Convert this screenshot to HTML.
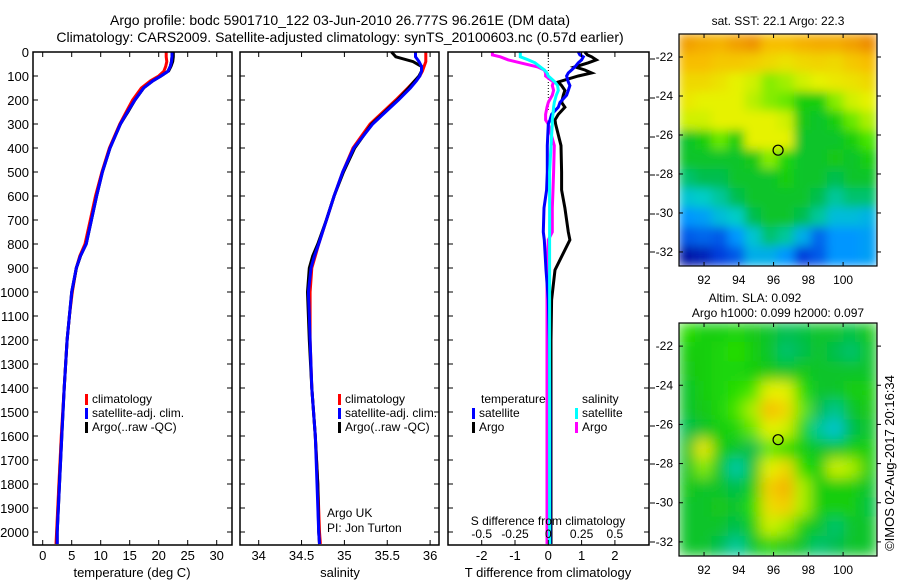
<!DOCTYPE html>
<html><head><meta charset="utf-8">
<style>
body{margin:0;background:#fff;}
svg{display:block;font-family:"Liberation Sans",sans-serif;}
text{fill:#000;}
</style></head>
<body>
<svg id="fig" width="900" height="580" viewBox="0 0 900 580" xmlns="http://www.w3.org/2000/svg">
<defs>
<filter id="blur1" x="0" y="0" width="1" height="1"><feGaussianBlur stdDeviation="5"/></filter>
<filter id="blur2" x="0" y="0" width="1" height="1"><feGaussianBlur stdDeviation="7"/></filter>
<clipPath id="clipTop"><rect x="679" y="34" width="198" height="232"/></clipPath>
<clipPath id="clipBot"><rect x="679" y="323" width="198" height="233"/></clipPath>
</defs>
<text x="340" y="25" font-size="14" text-anchor="middle">Argo profile: bodc 5901710_122 03-Jun-2010 26.777S 96.261E (DM data)</text>
<text x="340" y="42" font-size="14" text-anchor="middle">Climatology: CARS2009. Satellite-adjusted climatology: synTS_20100603.nc (0.57d earlier)</text>
<g id="g1"></g>
<g id="g2"></g>
<g id="g3"></g>
<g id="gm1"></g>
<g id="gm2"></g>
<text transform="translate(894,463) rotate(-90)" font-size="13" text-anchor="middle">©IMOS 02-Aug-2017 20:16:34</text>
</svg>
<script>
// ---------- data ----------
const depths = [0,20,40,60,80,100,120,150,200,250,300,400,500,600,700,800,850,900,1000,1100,1200,1400,1600,1800,2000,2050];
const tempClim = [21.3,21.3,21.4,21.2,20.9,20.0,18.6,17.0,15.5,14.4,13.3,11.5,10.2,9.1,8.2,7.3,6.4,5.8,5.1,4.6,4.2,3.7,3.2,2.8,2.4,2.3];
const tempSat  = [22.3,22.3,22.2,22.0,21.6,20.4,19.0,17.4,15.9,14.6,13.4,11.6,10.3,9.3,8.4,7.5,6.5,5.8,5.0,4.6,4.2,3.7,3.3,2.9,2.5,2.5];
const tempArgo = [22.6,22.6,22.5,22.2,21.8,20.5,19.0,17.5,16.0,14.8,13.5,11.6,10.3,9.3,8.4,7.5,6.6,5.9,5.1,4.6,4.2,3.7,3.2,2.8,2.5,2.4];
const salClim = [35.95,35.95,35.95,35.93,35.91,35.88,35.82,35.74,35.6,35.45,35.3,35.1,34.98,34.88,34.79,34.7,34.66,34.62,34.6,34.6,34.6,34.62,34.66,34.69,34.71,34.72];
const salSat  = [35.83,35.83,35.87,35.9,35.9,35.88,35.84,35.77,35.63,35.48,35.33,35.11,34.98,34.88,34.79,34.7,34.65,34.61,34.58,34.59,34.6,34.62,34.66,34.68,34.7,34.71];
const salArgo = [35.55,35.6,35.8,35.9,35.9,35.87,35.82,35.75,35.62,35.47,35.32,35.12,34.99,34.88,34.79,34.69,34.63,34.59,34.57,34.58,34.59,34.62,34.66,34.69,34.7,34.71];
const diffDepths = [0,12,20,33,45,62,75,87,100,125,140,160,180,210,230,260,283,300,390,500,575,650,750,783,908,1033,1200,1500,2050];
const dTsat  = [0.9,0.95,1.05,1.0,0.9,0.8,0.7,0.6,0.55,0.6,0.65,0.6,0.55,0.35,0.3,0.1,0.05,0.0,-0.03,-0.03,-0.05,-0.13,-0.15,-0.12,-0.07,0.0,0.03,0.05,0.05];
const dTargo = [1.1,1.17,1.3,1.44,1.2,0.8,1.1,1.3,0.9,0.3,0.4,0.5,0.45,0.4,0.5,0.3,0.2,0.22,0.38,0.4,0.4,0.5,0.6,0.65,0.2,0.1,0.08,0.08,0.08];
const dSsat  = [-0.21,-0.21,-0.21,-0.15,-0.1,-0.06,-0.03,-0.01,0.0,0.05,0.07,0.075,0.06,0.045,0.04,0.035,0.03,0.03,0.02,0.01,0.01,0.01,0.01,0.01,0.01,0.01,0.01,0.01,0.01];
const dSargo = [-0.42,-0.42,-0.36,-0.3,-0.21,-0.08,-0.03,-0.02,-0.02,0.04,0.03,0.04,0.03,0.0,-0.01,-0.02,-0.02,0.0,0.045,0.04,0.035,0.03,0.03,0.0,-0.01,-0.01,-0.01,-0.01,-0.01];
const depthTicks = [0,100,200,300,400,500,600,700,800,900,1000,1100,1200,1300,1400,1500,1600,1700,1800,1900,2000];
const tempTicks = [0,5,10,15,20,25,30];
const salTicks = [34,34.5,35,35.5,36];
const salTickLabels = ["34","34.5","35","35.5","36"];
const dTTicks = [-2,-1,0,1,2];
const dSTicks = [-0.5,-0.25,0,0.25,0.5];
const dSTickLabels = ["-0.5","-0.25","0","0.25","0.5"];
const lonTicks = [92,94,96,98,100];
const latTicks = [-22,-24,-26,-28,-30,-32];
const argoLon = 96.26, argoLat = -26.78;
const sstGrid = [
[.95,.93,.92,.95,.97,.9,.9,.92,.93,.93,.95,.98],
[.9,.9,.88,.88,.87,.85,.83,.85,.86,.85,.88,.9],
[.85,.85,.83,.8,.78,.72,.74,.78,.8,.82,.83,.85],
[.82,.8,.8,.8,.76,.72,.7,.6,.6,.72,.78,.8],
[.78,.78,.8,.8,.8,.8,.78,.58,.55,.6,.7,.75],
[.55,.6,.7,.6,.8,.8,.8,.55,.55,.55,.6,.68],
[.55,.55,.55,.55,.58,.72,.62,.55,.55,.58,.55,.6],
[.48,.5,.5,.55,.55,.55,.6,.55,.55,.5,.55,.55],
[.4,.42,.45,.5,.55,.55,.55,.55,.5,.45,.48,.48],
[.3,.32,.38,.42,.5,.55,.55,.5,.45,.38,.38,.36],
[.2,.22,.2,.3,.4,.48,.45,.35,.22,.3,.3,.32],
[.05,.08,.15,.2,.35,.35,.3,.15,.2,.3,.3,.32]];
const slaGrid = [
[.65,.6,.6,.62,.58,.55,.5,.52,.55,.55,.52,.58],
[.6,.6,.62,.65,.6,.55,.48,.5,.55,.5,.48,.55],
[.58,.6,.62,.62,.6,.58,.55,.58,.55,.55,.55,.55],
[.55,.6,.62,.65,.68,.8,.8,.65,.55,.55,.6,.6],
[.55,.58,.62,.68,.75,.9,.85,.7,.5,.46,.55,.58],
[.5,.55,.6,.62,.7,.8,.78,.62,.45,.4,.5,.55],
[.55,.82,.6,.55,.5,.7,.65,.6,.55,.55,.6,.6],
[.55,.72,.55,.44,.55,.8,.85,.65,.6,.78,.75,.6],
[.58,.55,.55,.5,.6,.87,.92,.75,.6,.6,.6,.55],
[.55,.55,.58,.55,.65,.84,.87,.75,.6,.6,.6,.52],
[.55,.55,.55,.5,.6,.78,.74,.6,.55,.48,.55,.55],
[.55,.55,.5,.45,.55,.62,.58,.55,.48,.5,.55,.55]];

// ---------- helpers ----------
const NS="http://www.w3.org/2000/svg";
function mk(tag,attrs,parent){const e=document.createElementNS(NS,tag);for(const k in attrs)e.setAttribute(k,attrs[k]);parent.appendChild(e);return e;}
const TOP=52, BOT=545;
const yD = d => TOP + d*0.24;
const xT = v => 42.7 + v*5.8;
const xS = v => 258.7 + (v-34)*85.7;
const xDT = v => 548.3 + v*33.3;
const xDS = v => 548.3 + v*133.2;

function frame(g,x0,x1){
  const r=mk('rect',{x:x0,y:TOP,width:x1-x0,height:BOT-TOP,fill:'none',stroke:'#000','stroke-width':1.5},g);
  
  
  depthTicks.forEach(d=>{
    mk('line',{x1:x0,x2:x0+5,y1:yD(d),y2:yD(d),stroke:'#000'},g);
    mk('line',{x1:x1,x2:x1-5,y1:yD(d),y2:yD(d),stroke:'#000'},g);
  });
}
function xticks(g,vals,labels,fx,y){
  vals.forEach((v,i)=>{
    mk('line',{x1:fx(v),x2:fx(v),y1:TOP,y2:TOP+5,stroke:'#000'},g);
    mk('line',{x1:fx(v),x2:fx(v),y1:BOT,y2:BOT-5,stroke:'#000'},g);
    if(labels){const t=mk('text',{x:fx(v),y:y,'font-size':13,'text-anchor':'middle'},g);t.textContent=labels[i];
      
      }
  });
}
function line(g,xs,ds,fx,color,name,w){
  const pts=xs.map((v,i)=>fx(v).toFixed(1)+','+yD(ds[i]).toFixed(1)).join(' ');
  const p=mk('polyline',{points:pts,fill:'none',stroke:color,'stroke-width':w||3,'stroke-linejoin':'miter'},g);
  
  
}
function legend(g,x,y,items){
  items.forEach((it,i)=>{
    mk('rect',{x:x,y:y+i*14-9,width:3,height:11,fill:it[1]},g);
    const t=mk('text',{x:x+7,y:y+i*14,'font-size':12},g);t.textContent=it[0];
    
    
  });
}

// ---------- panel 1 ----------
const g1=document.getElementById('g1');
depthTicks.forEach(d=>{const t=mk('text',{x:29,y:yD(d)+5,'font-size':13,'text-anchor':'end'},g1);t.textContent=d;
  
  });
line(g1,tempClim,depths,xT,'#f00','temp-climatology-line');
line(g1,tempSat,depths,xT,'#000','temp-argo-line');
line(g1,tempArgo,depths,xT,'#000','temp-argo-line-2',2);
line(g1,tempSat,depths,xT,'#00f','temp-satellite-line');
frame(g1,33,232);
xticks(g1,tempTicks,tempTicks.map(String),xT,560);
let t=mk('text',{x:132,y:577,'font-size':13,'text-anchor':'middle'},g1);t.textContent='temperature (deg C)';


legend(g1,85,403,[['climatology','#f00'],['satellite-adj. clim.','#00f'],['Argo(..raw -QC)','#000']]);

// ---------- panel 2 ----------
const g2=document.getElementById('g2');
line(g2,salClim,depths,xS,'#f00','sal-climatology-line');
line(g2,salArgo,depths,xS,'#000','sal-argo-line');
line(g2,salSat,depths,xS,'#00f','sal-satellite-line');
frame(g2,240,439);
xticks(g2,salTicks,salTickLabels,xS,560);
t=mk('text',{x:340,y:577,'font-size':13,'text-anchor':'middle'},g2);t.textContent='salinity';


legend(g2,338,403,[['climatology','#f00'],['satellite-adj. clim.','#00f'],['Argo(..raw -QC)','#000']]);
t=mk('text',{x:327,y:517,'font-size':12},g2);t.textContent='Argo UK';


t=mk('text',{x:327,y:532,'font-size':12},g2);t.textContent='PI: Jon Turton';



// ---------- panel 3 ----------
const g3=document.getElementById('g3');
mk('line',{x1:548.3,x2:548.3,y1:TOP,y2:110,stroke:'#000','stroke-dasharray':'1,2'},g3);
line(g3,dSargo,diffDepths,xDS,'#f0f','sal-argo-diff-line');
line(g3,dTargo,diffDepths,xDT,'#000','temp-argo-diff-line');
line(g3,dTsat,diffDepths,xDT,'#00f','temp-satellite-diff-line');
line(g3,dSsat,diffDepths,xDS,'#0ff','sal-satellite-diff-line');
frame(g3,448,649);
xticks(g3,dTTicks,dTTicks.map(String),xDT,560);
dSTicks.forEach((v,i)=>{const tt=mk('text',{x:xDS(v),y:538,'font-size':12,'text-anchor':'middle'},g3);tt.textContent=dSTickLabels[i];
  
  });
t=mk('text',{x:548,y:525,'font-size':12,'text-anchor':'middle'},g3);t.textContent='S difference from climatology';


t=mk('text',{x:548,y:577,'font-size':13,'text-anchor':'middle'},g3);t.textContent='T difference from climatology';


t=mk('text',{x:481,y:403,'font-size':12},g3);t.textContent='temperature';


t=mk('text',{x:582,y:403,'font-size':12},g3);t.textContent='salinity';


legend(g3,472,417,[['satellite','#00f'],['Argo','#000']]);
legend(g3,575,417,[['satellite','#0ff'],['Argo','#f0f']]);
[59,98,137,175,214,252,388,426,464,503,542].forEach(y=>mk('line',{x1:650,x2:655,y1:y,y2:y,stroke:'#000'},g3));

// ---------- maps ----------
const stops=[[0,[0,0,140]],[0.15,[0,60,220]],[0.3,[0,150,255]],[0.42,[0,205,200]],[0.5,[0,190,80]],[0.58,[20,200,20]],[0.66,[40,225,0]],[0.73,[150,238,0]],[0.8,[230,242,0]],[0.9,[248,190,0]],[1,[235,130,0]]];
function cmap(v){for(let i=1;i<stops.length;i++){if(v<=stops[i][0]){const a=stops[i-1],b=stops[i];const f=(v-a[0])/(b[0]-a[0]);return 'rgb('+a[1].map((c,k)=>Math.round(c+(b[1][k]-c)*f)).join(',')+')';}}return 'rgb(235,130,0)';}
const LON0=90.56,LON1=101.95,LAT0=-20.82,LAT1=-32.72;
function drawMap(g,grid,y0,y1,clip,blur){
  const x0=679,x1=877;
  const xL=lon=>x0+(lon-LON0)/(LON1-LON0)*(x1-x0);
  const yL=lat=>y0+(lat-LAT0)/(LAT1-LAT0)*(y1-y0);
  const cg=mk('g',{'clip-path':'url(#'+clip+')'},g);
  const bg=mk('g',{filter:'url(#'+blur+')'},cg);
  const R=grid.length,C=grid[0].length,cw=(x1-x0)/C,ch=(y1-y0)/R;
  grid.forEach((row,r)=>row.forEach((v,c)=>{
    const cell=mk('rect',{x:(x0+c*cw-0.5).toFixed(1),y:(y0+r*ch-0.5).toFixed(1),width:(cw+1).toFixed(1),height:(ch+1).toFixed(1),fill:cmap(v)},bg);
    
    
  }));
  const fr=mk('rect',{x:x0,y:y0,width:x1-x0,height:y1-y0,fill:'none',stroke:'#000','stroke-width':1.2},g);
  
  
  lonTicks.forEach(l=>{mk('line',{x1:xL(l),x2:xL(l),y1:y1,y2:y1-4,stroke:'#000'},g);mk('line',{x1:xL(l),x2:xL(l),y1:y0,y2:y0+4,stroke:'#000'},g);
    const tt=mk('text',{x:xL(l),y:y1+18,'font-size':12,'text-anchor':'middle'},g);tt.textContent=l;
    
    });
  latTicks.forEach(l=>{mk('line',{x1:x0,x2:x0+4,y1:yL(l),y2:yL(l),stroke:'#000'},g);mk('line',{x1:x1,x2:x1+4,y1:yL(l),y2:yL(l),stroke:'#000'},g);
    const tt=mk('text',{x:x0-6,y:yL(l)+4,'font-size':12,'text-anchor':'end'},g);tt.textContent=l;
    
    });
  const c=mk('circle',{cx:xL(argoLon),cy:yL(argoLat),r:5,fill:'none',stroke:'#000','stroke-width':1.2},g);
  
  
}
const gm1=document.getElementById('gm1'), gm2=document.getElementById('gm2');
drawMap(gm1,sstGrid,34,266,'clipTop','blur1');
drawMap(gm2,slaGrid,323,556,'clipBot','blur2');
t=mk('text',{x:778,y:25,'font-size':12,'text-anchor':'middle'},gm1);t.textContent='sat. SST: 22.1 Argo: 22.3';


t=mk('text',{x:755,y:302,'font-size':12,'text-anchor':'middle'},gm2);t.textContent='Altim. SLA: 0.092';


t=mk('text',{x:778,y:317,'font-size':12,'text-anchor':'middle'},gm2);t.textContent='Argo h1000: 0.099 h2000: 0.097';


</script>
</body></html>
